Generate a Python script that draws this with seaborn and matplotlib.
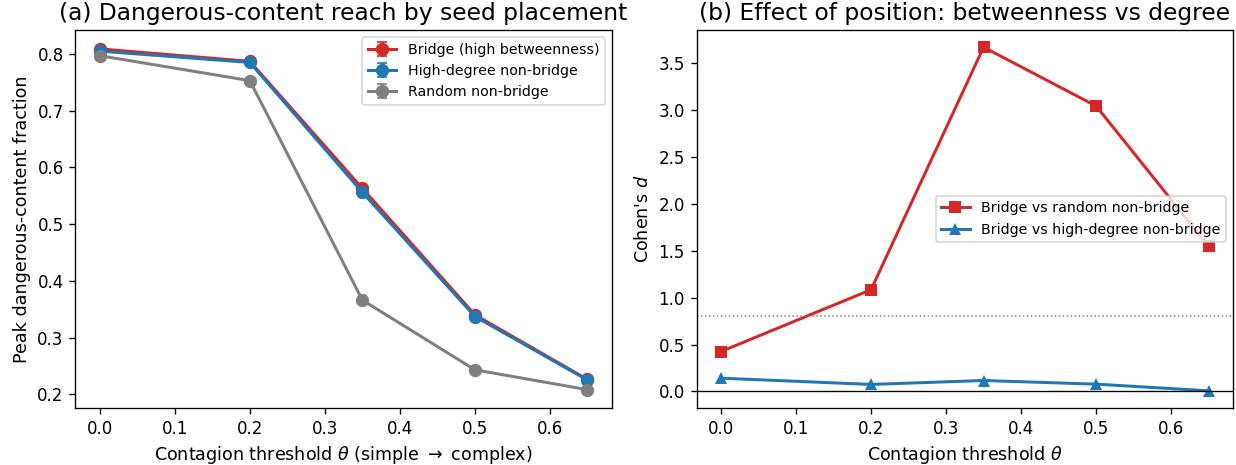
import matplotlib
matplotlib.use("Agg")
import matplotlib.pyplot as plt
import seaborn as sns
import numpy as np
import pandas as pd

theta = [0.0, 0.2, 0.35, 0.5, 0.65]
bridge = [0.809, 0.787, 0.563, 0.340, 0.226]
highdeg = [0.805, 0.785, 0.556, 0.337, 0.225]
randnb = [0.797, 0.753, 0.366, 0.243, 0.208]
bridge_err = [0.003, 0.003, 0.004, 0.003, 0.002]
highdeg_err = [0.003, 0.003, 0.004, 0.003, 0.002]
randnb_err = [0.003, 0.003, 0.004, 0.003, 0.002]

d_random = [0.426, 1.086, 3.674, 3.046, 1.548]
d_highdeg = [0.142, 0.075, 0.117, 0.078, 0.007]

RED = "#d62728"
BLUE = "#1f77b4"
GRAY = "#7f7f7f"

DPI = 120
fig, (ax1, ax2) = plt.subplots(1, 2, figsize=(1236 / DPI, 465 / DPI), dpi=DPI)
fig.subplots_adjust(left=0.061, right=0.9976, bottom=0.1226, top=0.9355, wspace=0.158)

TICK = 10
LAB = 10.5
TIT = 14
LEG = 8.5

for vals, err, col, lab in [
    (bridge, bridge_err, RED, "Bridge (high betweenness)"),
    (highdeg, highdeg_err, BLUE, "High-degree non-bridge"),
    (randnb, randnb_err, GRAY, "Random non-bridge"),
]:
    ax1.errorbar(theta, vals, yerr=err, color=col, marker="o", markersize=7,
                 linewidth=1.8, capsize=3, label=lab)
ax1.set_title("(a) Dangerous-content reach by seed placement", fontsize=TIT)
ax1.set_xlabel(r"Contagion threshold $\theta$ (simple $\rightarrow$ complex)", fontsize=LAB)
ax1.set_ylabel("Peak dangerous-content fraction", fontsize=LAB)
ax1.legend(loc="upper right", fontsize=LEG)

df = pd.DataFrame({
    "theta": theta * 2,
    "d": d_random + d_highdeg,
    "comp": ["Bridge vs random non-bridge"] * 5 + ["Bridge vs high-degree non-bridge"] * 5,
})
sns.lineplot(data=df, x="theta", y="d", hue="comp", style="comp",
             palette=[RED, BLUE], markers=["s", "^"], dashes=False,
             markersize=7.5, markeredgewidth=0, linewidth=1.8, ax=ax2)
ax2.axhline(0.8, color="gray", linestyle=":", linewidth=0.9)
ax2.axhline(0, color="black", linewidth=0.8)
ax2.set_title(r"(b) Effect of position: betweenness vs degree", fontsize=TIT)
ax2.set_xlabel(r"Contagion threshold $\theta$", fontsize=LAB)
ax2.set_ylabel(r"Cohen's $d$", fontsize=LAB)
ax2.legend(loc="center right", fontsize=LEG)

for ax in (ax1, ax2):
    ax.set_xticks([0.0, 0.1, 0.2, 0.3, 0.4, 0.5, 0.6])
    ax.set_xlim(-0.0325, 0.6825)
    ax.tick_params(labelsize=TICK)
ax2.set_yticks(np.arange(0, 3.51, 0.5))

fig.savefig("out.png", dpi=DPI)
